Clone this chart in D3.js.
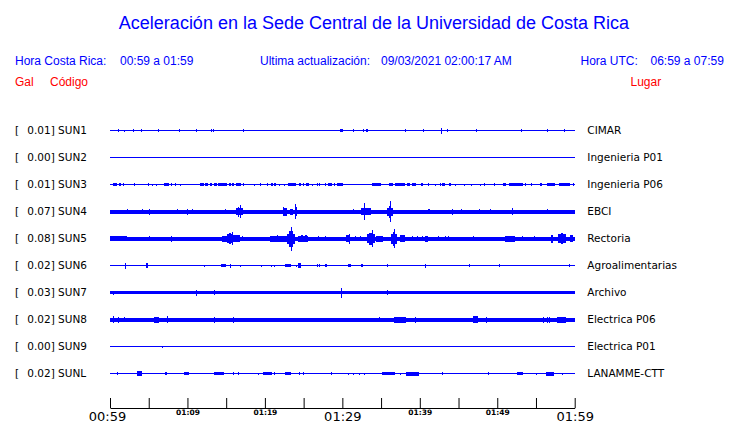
<!DOCTYPE html>
<html><head><meta charset="utf-8">
<script src="https://cdn.jsdelivr.net/npm/d3@7"></script>
<style>body{margin:0;background:#fff;overflow:hidden}svg{display:block}</style>
</head><body><svg id="c" width="740" height="423"></svg>
<script>
// ---- data ----
const codes = ["SUN1","SUN2","SUN3","SUN4","SUN5","SUN6","SUN7","SUN8","SUN9","SUNL"];
const galValues = ["0.01","0.00","0.01","0.07","0.08","0.02","0.03","0.02","0.00","0.02"];
const places = ["CIMAR","Ingenieria P01","Ingenieria P06","EBCI","Rectoria","Agroalimentarias","Archivo","Electrica P06","Electrica P01","LANAMME-CTT"];
// background (noise) half-amplitude of each trace
const noiseAmp = [0.5,0.5,0.5,2,2,0.5,1.6,2,0.5,0.5];
// minutes after 00:59 local time
const tickMinutes = [0,5,10,15,20,25,30,35,40,45,50,55,60];
const tickLabels = {0:"00:59",10:"01:09",20:"01:19",30:"01:29",40:"01:39",50:"01:49",60:"01:59"};
const majorLabels = [0,30,60];
// events: [start minute, end minute, half-amplitude]
const sun1 = [[1.08,1.15,1.5],[1.85,1.9,1],[3.01,3.08,1.5],[4.05,4.12,1.5],[6.24,6.31,1.5],[8.95,9.02,1.5],[11.06,11.13,1.5],[13.04,13.1,1.5],[13.34,13.4,1.5],[17.22,17.29,1.5],[29.75,30.05,1.5],[31.42,31.49,1.5],[32.71,32.78,1.5],[33.1,33.3,1.5],[38.13,38.2,1.5],[40.46,40.53,1.5],[42.69,42.76,3],[43.56,43.63,1.5],[47.3,47.37,1.5],[53.11,53.18,1.5],[56.47,56.54,1.5],[58.66,58.73,1.5]];
const sun2 = [];
const sun3 = [[0.34,0.95,1.5],[1.16,1.38,1.5],[1.64,1.7,1.5],[3.14,3.2,1.5],[4.86,4.92,1.5],[5.47,5.52,1],[5.9,5.95,1],[6.97,7.57,1.5],[7.88,7.93,1.5],[8.44,8.49,1.5],[9.04,9.09,1],[11.62,12.14,1.5],[12.31,12.7,1.5],[12.95,13.21,1.5],[13.47,13.77,1.5],[13.99,15.06,1.5],[15.32,15.58,1.5],[15.8,16.05,1.5],[16.27,16.87,1.5],[17.13,17.18,1.5],[18.64,18.69,1],[19.41,19.46,1.5],[20.31,20.36,1.5],[20.79,21.0,1.5],[21.22,21.43,1.5],[21.86,21.91,1],[22.51,22.56,1],[23.03,24.02,1.5],[24.4,24.66,1.5],[24.92,24.97,1.5],[25.35,25.69,1.5],[26.12,26.17,1],[26.77,26.82,1.5],[26.99,27.04,1.5],[27.72,27.77,1.5],[28.19,28.62,1.5],[28.97,29.02,1.5],[29.27,30.04,1.5],[33.87,34.95,1.5],[36.07,36.5,1.5],[36.75,38.05,1.5],[38.3,38.73,1.5],[38.95,39.51,1.5],[40.11,40.16,1.5],[40.33,40.38,1.5],[41.1,41.15,1.5],[41.96,42.01,1],[42.61,42.66,1.5],[42.91,43.25,1.5],[43.81,44.03,1.5],[44.5,44.55,1],[45.75,45.8,1],[46.61,46.66,1],[47.77,47.82,1],[48.29,48.34,1.5],[49.62,49.67,1.5],[50.79,51.13,1.5],[51.56,53.28,1.5],[53.58,53.63,1.5],[54.31,54.36,1.5],[55.52,55.78,1.5],[56.38,57.5,1.5],[58.02,59.39,1.5],[59.74,59.79,1.5]];
const sun4 = [[2.15,2.2,2.5],[4.09,4.15,2.5],[5.08,5.14,3],[8.61,8.67,2.5],[9.9,9.96,3],[10.54,10.6,2.5],[14.85,14.9,2.5],[16.27,17.22,3.5],[16.55,16.7,5],[16.83,16.9,6.5],[22.29,22.81,4],[22.4,22.5,4.5],[23.24,23.67,3],[23.84,24.19,4.5],[23.93,24.0,7.5],[31.33,31.4,2.5],[32.41,33.66,3.5],[32.84,32.9,8.5],[35.76,36.5,4],[36.0,36.3,6],[36.15,36.22,10.5],[41.1,41.3,2.5],[44.2,44.27,3],[45.36,45.42,2.5],[47.69,47.75,2.5],[49.11,49.17,2.5],[51.95,52.02,3.5],[56.38,56.45,2.5]];
const sun5 = [[0,2.15,2.5],[4.99,5.05,2.5],[7.92,7.98,3],[14.42,15.06,3],[15.06,15.92,4.5],[15.4,15.6,5.5],[15.71,15.78,6.5],[15.92,16.79,3.5],[17.1,17.22,2.5],[20.66,22.81,3],[21.5,21.7,3.5],[22.9,23.9,5],[23.1,23.6,8],[23.37,23.44,12],[24.3,25.6,3],[24.6,24.9,3.5],[25.2,25.5,3.5],[26.9,26.96,2.5],[27.76,27.82,2.5],[30.47,30.99,3.5],[30.9,30.96,5],[31.63,31.7,2.5],[32.28,32.34,2.5],[33.14,34.22,4.5],[33.5,33.9,6],[33.79,33.86,8.5],[34.4,35.3,3],[36.24,37.1,5],[36.5,36.8,7],[36.67,36.74,9.5],[37.45,38.1,3.5],[38.95,39.0,2.5],[39.6,39.65,2.5],[40.24,40.3,2.5],[40.67,41.1,3],[42.4,42.46,2.5],[43.25,43.3,2.5],[43.68,43.74,2.5],[46.91,46.97,2.5],[51.0,52.3,3],[53.15,53.2,2.5],[54.78,54.84,2.5],[56.9,57.24,4],[57.81,58.9,4.5],[58.2,58.5,5.5],[59.4,59.8,3.5]];
const sun6 = [[1.94,2.0,3],[4.62,4.88,2.5],[12.18,12.22,1],[14.33,14.98,1.5],[15.45,15.5,2],[16.83,16.87,1],[19.54,19.58,1],[20.83,20.87,1],[21.22,21.26,1],[22.64,23.33,1.5],[23.97,24.02,1],[24.27,24.7,2.5],[26.68,26.72,1.5],[26.94,26.98,1.5],[27.8,27.98,1.5],[30.73,31.07,1.5],[32.45,32.71,1.5],[35.81,35.86,1.5],[40.7,40.82,2],[46.36,46.44,1.5],[50.18,50.36,1.5],[59.31,59.36,1.5]];
const sun7 = [[0.43,0.5,2],[11.1,11.17,3],[13.47,13.53,2.5],[29.83,29.9,5],[35.81,35.87,2.5]];
const sun8 = [[0.34,0.4,3.5],[1.08,1.14,3],[1.85,1.9,2.5],[5.72,6.33,3],[7.32,7.38,3.5],[13.47,13.53,3],[15.92,15.98,3],[34.78,34.84,2.5],[36.67,38.18,3],[39.42,39.48,3],[46.91,47.56,3.5],[48.5,48.56,3],[55.95,56.0,3],[56.38,56.43,3],[56.73,56.78,3],[57.67,58.88,3]];
const sun9 = [[6.76,6.8,1]];
const sunL = [[0.86,0.9,1.5],[3.53,4.09,2.5],[7.1,7.32,1.5],[9.6,10.24,1.5],[13.47,14.72,1.5],[15.92,15.96,1.5],[16.48,16.52,1.5],[19.15,19.19,1],[19.8,20.87,1.5],[21.18,21.22,1.5],[22.6,23.37,1.5],[24.4,24.44,1.5],[24.96,25.0,1.5],[28.5,28.7,1.5],[30.69,30.73,1],[31.42,31.46,1],[32.19,32.23,1],[32.8,32.84,1],[35.08,36.8,1.5],[37.49,37.53,1],[38.22,39.9,2],[42.91,42.95,1.5],[48.85,48.89,1.5],[52.51,53.28,1.5],[55.0,55.04,1],[56.29,57.33,2],[58.32,58.36,1]];
const events = [sun1,sun2,sun3,sun4,sun5,sun6,sun7,sun8,sun9,sunL];

// ---- drawing ----
const svg = d3.select("#c");
const BLUE = "#0000ff", RED = "#ff0000";
const x = d3.scaleLinear().domain([0,60]).range([110,574.7]);
const y = d3.scalePoint().domain(codes).range([130.5,373.5]);
const amp = d3.scaleLinear().domain([0,1]).range([0,1]);

const hdr = "'Liberation Sans', Arial, sans-serif";
svg.append("text").attr("x",374).attr("y",29).attr("text-anchor","middle")
  .attr("font-family",hdr).attr("font-size",18).attr("fill",BLUE)
  .text("Aceleración en la Sede Central de la Universidad de Costa Rica");
const header = [
  [15,65,"Hora Costa Rica:",BLUE],[120,65,"00:59 a 01:59",BLUE],
  [260,65,"Ultima actualización:",BLUE],[381,65,"09/03/2021 02:00:17 AM",BLUE],
  [580.5,65,"Hora UTC:",BLUE],[650.5,65,"06:59 a 07:59",BLUE],
  [15,86,"Gal",RED],[50,86,"Código",RED],[630.5,86,"Lugar",RED]
];
svg.selectAll("text.h").data(header).join("text").attr("class","h")
  .attr("x",d=>d[0]).attr("y",d=>d[1]).attr("fill",d=>d[3])
  .attr("font-family",hdr).attr("font-size",12).text(d=>d[2]);

const lab = "'DejaVu Sans', sans-serif";
const rows = svg.selectAll("g.row").data(codes).join("g").attr("class","row")
  .attr("transform",d=>`translate(0,${y(d)})`);
rows.append("text").attr("x",15).attr("y",3.5).attr("font-family",lab).attr("font-size",10.5).text("[");
rows.append("text").attr("x",27.3).attr("y",3.5).attr("font-family",lab).attr("font-size",10.5)
  .text((d,i)=>galValues[i]+"] "+d);
rows.append("text").attr("x",587.3).attr("y",3.5).attr("font-family",lab).attr("font-size",10.5)
  .text((d,i)=>places[i]);
rows.append("rect").attr("x",x(0)).attr("width",x(60)-x(0))
  .attr("y",(d,i)=>-amp(noiseAmp[i])).attr("height",(d,i)=>2*amp(noiseAmp[i]))
  .attr("fill",BLUE).attr("shape-rendering","crispEdges");
rows.each(function(d,i){
  d3.select(this).selectAll("rect.ev").data(events[i]).join("rect").attr("class","ev")
    .attr("x",e=>x(e[0])).attr("width",e=>Math.max(1,x(e[1])-x(e[0])))
    .attr("y",e=>-amp(e[2])).attr("height",e=>2*amp(e[2]))
    .attr("fill",BLUE).attr("shape-rendering","crispEdges");
});

const axis = d3.axisBottom(x).tickValues(tickMinutes).tickSizeInner(-10).tickSizeOuter(0)
  .tickFormat(m=>tickLabels[m]||"");
const ag = svg.append("g").attr("transform","translate(0,408)").call(axis);
ag.select(".domain").attr("stroke","#000");
ag.selectAll(".tick line").attr("stroke","#000");
ag.selectAll(".tick text").attr("fill","#000").attr("font-family",lab).attr("dy",null)
  .each(function(m){
    const big = majorLabels.includes(m);
    d3.select(this).attr("font-size",big?13:7.5).attr("font-weight",big?"normal":"bold")
      .attr("y",big?12.5:7).attr("dx",m===0?-3:0);
  });
</script></body></html>
